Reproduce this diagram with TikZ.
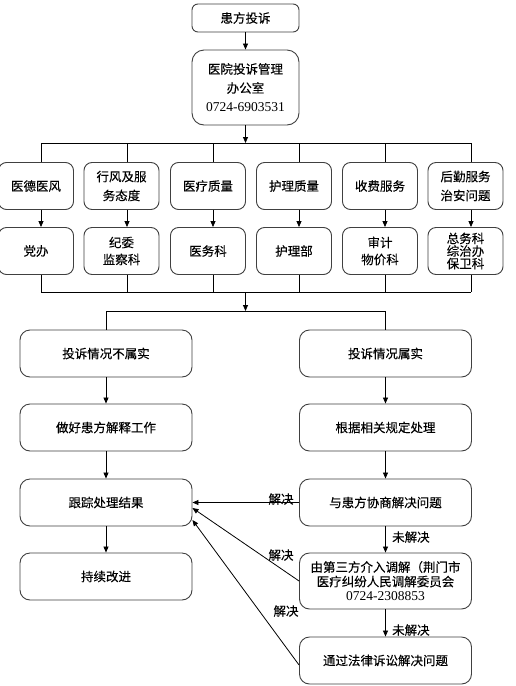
\documentclass[tikz,border=0pt]{standalone}
\usepackage{fontspec}
\setmainfont{Noto Sans CJK SC}[FakeBold=0.2]
\newfontfamily\numfont{Liberation Serif}
\usetikzlibrary{arrows.meta,calc}
\newcommand\mycn{\fontsize{12.5}{19}\selectfont}
\definecolor{boxc}{HTML}{404040}
\begin{document}
\begin{tikzpicture}[x=1pt,y=-1pt,
  box/.style={draw=boxc, line width=0.9pt, rounded corners=8pt, align=center, inner sep=0pt, font=\mycn},
  sbox/.style={box, minimum width=75pt, minimum height=47pt},
  wbox/.style={box, rounded corners=10pt, minimum width=172pt, minimum height=47pt},
  arr/.style={-{Triangle[length=6pt,width=5pt]}, line width=0.8pt},
  ln/.style={line width=0.8pt},
  lbl/.style={font=\mycn, inner sep=0pt}]
\useasboundingbox (0,0) rectangle (516,686);
\fill[white] (0,0) rectangle (516,686);

% top
\node[box, rounded corners=6pt, minimum width=107pt, minimum height=28pt] (n1) at (245.5,18) {患方投诉};
\node[box, rounded corners=12pt, minimum width=107pt, minimum height=75pt] (n2) at (245.5,87.5)
  {医院投诉管理\\办公室\\{\numfont\fontsize{13.5}{19}\selectfont 0724-6903531}};
\draw[arr] (n1) -- (n2);

% branch coordinates
\coordinate (top) at (245.5,143);
\coordinate (xa) at (41,143);
\coordinate (xb) at (127,143);
\coordinate (xc) at (213,143);
\coordinate (xd) at (299,143);
\coordinate (xe) at (385,143);
\coordinate (xf) at (471,143);
\draw[arr] (n2) -- (top);
\draw[ln] (xa) -- (xf);

% row 1
\node[sbox] (a1) at (36,186) {医德医风};
\node[sbox] (b1) at (121.5,186) {行风及服\\务态度};
\node[sbox] (c1) at (208,186) {医疗质量};
\node[sbox] (d1) at (294,186) {护理质量};
\node[sbox] (e1) at (380,186) {收费服务};
\node[sbox] (f1) at (465.5,186) {后勤服务\\治安问题};

% row 2
\node[sbox] (a2) at (36,251) {党办};
\node[sbox, font=\fontsize{12.5}{17}\selectfont] (b2) at (121.5,251) {纪委\\监察科};
\node[sbox] (c2) at (208,251) {医务科};
\node[sbox] (d2) at (294,251) {护理部};
\node[sbox, font=\fontsize{12.5}{17}\selectfont] (e2) at (380,251) {审计\\物价科};
\node[sbox, font=\fontsize{12.5}{10.5}\selectfont] (f2) at (465.5,251) {总务科\\综治办\\保卫科};

\coordinate (bot) at (245.5,292);
\foreach \c/\u/\w in {xa/a1/a2, xb/b1/b2, xc/c1/c2, xd/d1/d2, xe/e1/e2, xf/f1/f2}{
  \draw[ln] (\c) -- (\c |- \u.north);
  \draw[arr] (\c |- \u.south) -- (\c |- \w.north);
  \draw[ln] (\c |- \w.south) -- (\c |- bot);
}
\draw[ln] (xa |- bot) -- (xf |- bot);

% split
\coordinate (k) at (245.5,311);
\draw[arr] (bot) -- (k);

\node[wbox] (L1) at (106,353.5) {投诉情况不属实};
\node[wbox] (R1) at (385.5,353.5) {投诉情况属实};
\node[wbox] (L2) at (106,427.5) {做好患方解释工作};
\node[wbox] (R2) at (385.5,427.5) {根据相关规定处理};
\node[wbox] (L3) at (106,502.5) {跟踪处理结果};
\node[wbox] (R3) at (385.5,502.5) {与患方协商解决问题};
\node[wbox] (L4) at (106,576.5) {持续改进};
\node[wbox, minimum height=56pt, font=\fontsize{12.5}{14.5}\selectfont] (R4) at (385.5,581)
  {由第三方介入调解（荆门市\\医疗纠纷人民调解委员会\\{\numfont\fontsize{13.5}{14.5}\selectfont 0724-2308853}};
\node[wbox] (R5) at (385.5,660.5) {通过法律诉讼解决问题};

\draw[ln] (L1.north |- k) -- (R1.north |- k);
\draw[ln] (L1.north |- k) -- (L1.north);
\draw[ln] (R1.north |- k) -- (R1.north);

\draw[arr] (L1) -- (L2);
\draw[arr] (R1) -- (R2);
\draw[arr] (L2) -- (L3);
\draw[arr] (R2) -- (R3);
\draw[arr] (L3) -- (L4);
\draw[arr] (R3) -- (R4);
\draw[arr] (R4) -- (R5);

\draw[arr] (R3.west) -- (L3.east);
\draw[arr] (R4.west) -- ([yshift=-5.5pt]L3.east);
\draw[arr] ([yshift=-4.5pt]R5.west) -- ([yshift=-17.5pt]L3.east);

\node[lbl] (s1) at (281,499) {解决};
\node[lbl] (s2) at (281,555) {解决};
\node[lbl] (s3) at (286,611) {解决};
\node[lbl, anchor=west] (u1) at (392,537) {未解决};
\node[lbl, anchor=west] (u2) at (392,630) {未解决};
\end{tikzpicture}
\end{document}
